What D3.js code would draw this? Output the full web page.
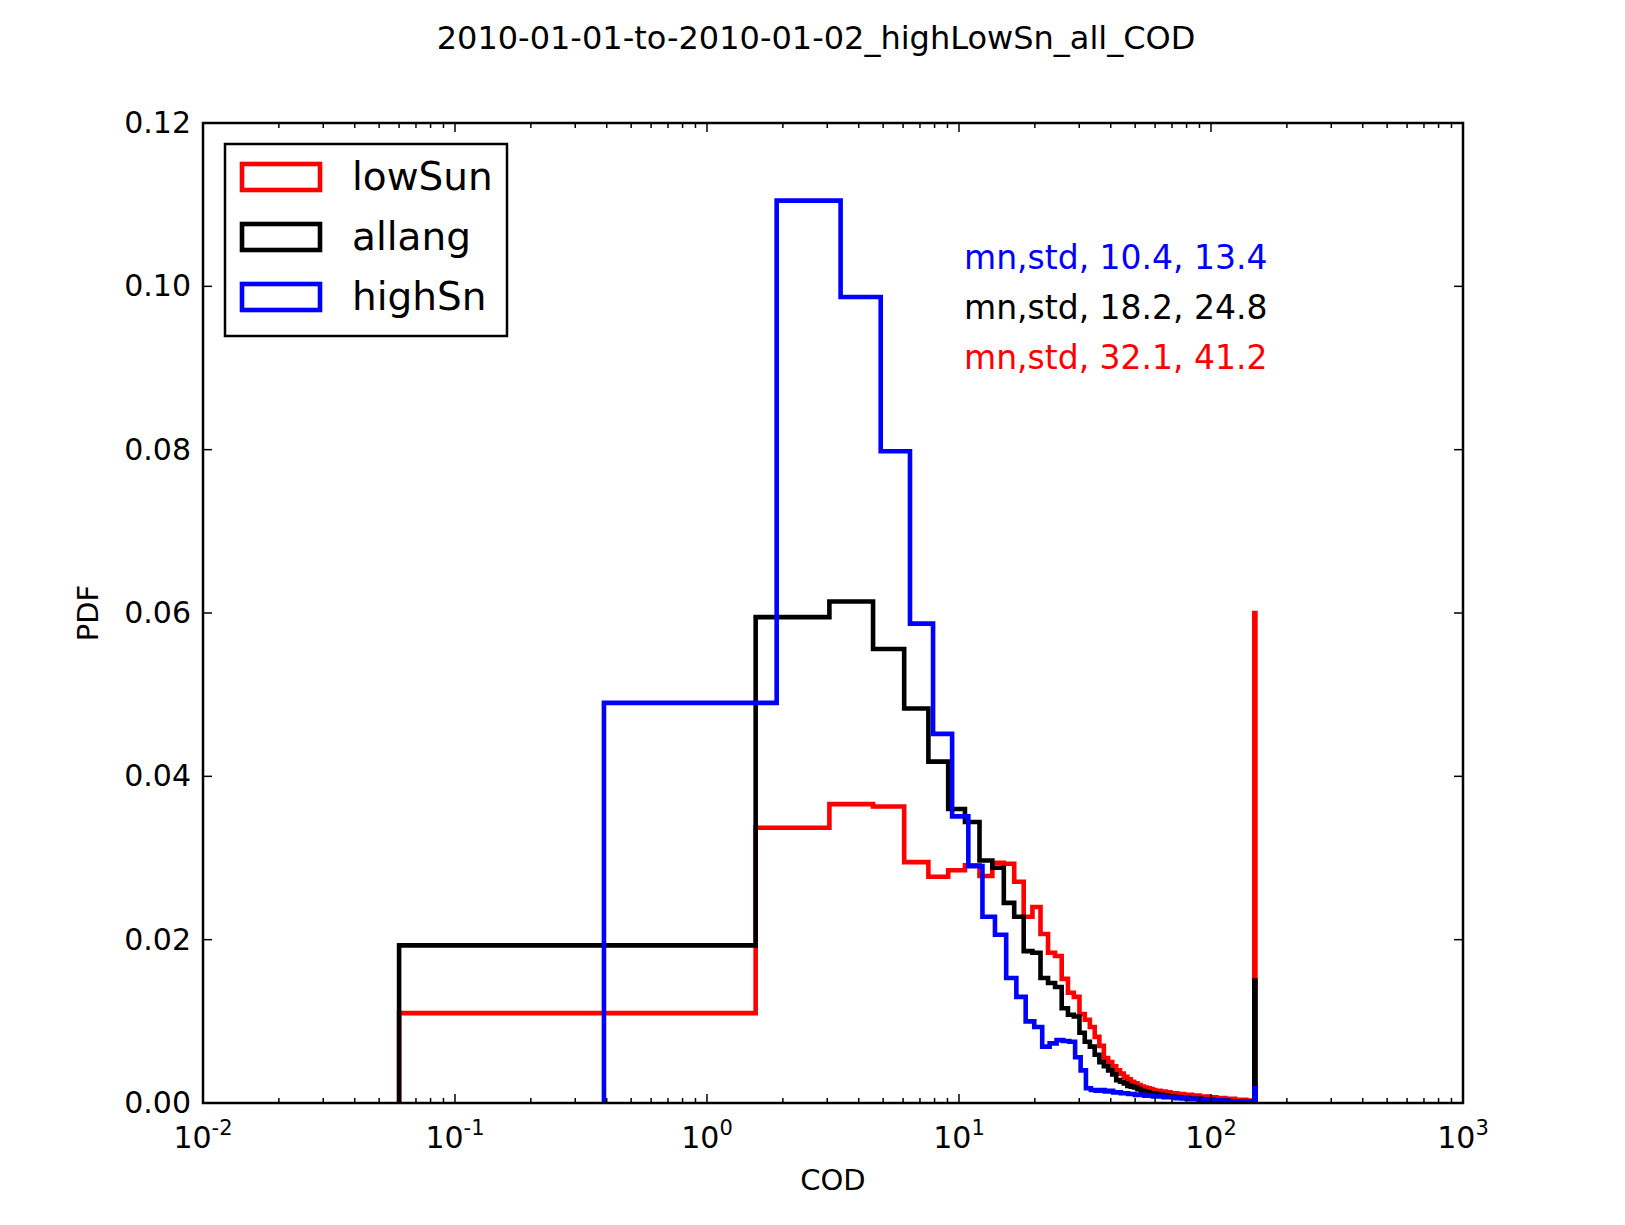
<!DOCTYPE html>
<meta charset="utf-8">
<script src="https://d3js.org/d3.v7.min.js"></script>
<style>
  body { margin: 0; background: #fff; }
  text { font-family: "DejaVu Sans", sans-serif; }
</style>
<div id="chart"></div>
<script>
// bin edges: 100 bins of width 1.5 starting at these values
var binStart = {lowSun: 0.06, allang: 0.06, highSn: 0.39};
var binWidth = 1.5;

var lowSun = [0.0110, 0.0337, 0.0366, 0.0363, 0.0295, 0.0277, 0.0285, 0.0291, 0.0278, 0.0294,
  0.0293, 0.0271, 0.0228, 0.0240, 0.0207, 0.0184, 0.0180, 0.0152, 0.0135, 0.0130,
  0.0109, 0.0102, 0.0093, 0.0081, 0.0070, 0.0055, 0.0050, 0.0045, 0.0040, 0.0036,
  0.0032, 0.0029, 0.0026, 0.0024, 0.0022, 0.0020, 0.0019, 0.0018, 0.0017, 0.0016,
  0.0015, 0.0015, 0.0014, 0.0014, 0.0013, 0.0013, 0.0012, 0.0012, 0.0012, 0.0011,
  0.0011, 0.0011, 0.0010, 0.0010, 0.0010, 0.0010, 0.0009, 0.0009, 0.0009, 0.0009,
  0.0008, 0.0008, 0.0008, 0.0008, 0.0008, 0.0007, 0.0007, 0.0007, 0.0007, 0.0007,
  0.0006, 0.0006, 0.0006, 0.0006, 0.0006, 0.0006, 0.0005, 0.0005, 0.0005, 0.0005,
  0.0005, 0.0005, 0.0005, 0.0004, 0.0004, 0.0004, 0.0004, 0.0004, 0.0004, 0.0004,
  0.0004, 0.0004, 0.0003, 0.0003, 0.0003, 0.0003, 0.0003, 0.0003, 0.0003, 0.0600];

var allang = [0.0193, 0.0595, 0.0614, 0.0556, 0.0483, 0.0418, 0.0360, 0.0344, 0.0297, 0.0288,
  0.0245, 0.0228, 0.0186, 0.0184, 0.0153, 0.0147, 0.0142, 0.0116, 0.0108, 0.0106,
  0.0086, 0.0075, 0.0069, 0.0059, 0.0050, 0.0045, 0.0040, 0.0035, 0.0028, 0.0026,
  0.0024, 0.0021, 0.0020, 0.0019, 0.0017, 0.0015, 0.0014, 0.0013, 0.0012, 0.0012,
  0.0011, 0.0010, 0.0010, 0.0009, 0.0009, 0.0008, 0.0008, 0.0008, 0.0007, 0.0007,
  0.0007, 0.0006, 0.0006, 0.0006, 0.0006, 0.0005, 0.0005, 0.0005, 0.0005, 0.0005,
  0.0005, 0.0004, 0.0004, 0.0004, 0.0004, 0.0004, 0.0004, 0.0004, 0.0003, 0.0003,
  0.0003, 0.0003, 0.0003, 0.0003, 0.0003, 0.0003, 0.0003, 0.0003, 0.0002, 0.0002,
  0.0002, 0.0002, 0.0002, 0.0002, 0.0002, 0.0002, 0.0002, 0.0002, 0.0002, 0.0002,
  0.0002, 0.0002, 0.0002, 0.0002, 0.0002, 0.0002, 0.0002, 0.0002, 0.0002, 0.0150];

var highSn = [0.0490, 0.1105, 0.0987, 0.0798, 0.0587, 0.0452, 0.0351, 0.0290, 0.0228, 0.0206,
  0.0153, 0.0130, 0.0100, 0.0093, 0.0069, 0.0073, 0.0077, 0.0076, 0.0075, 0.0056,
  0.0040, 0.0018, 0.0016, 0.0015, 0.0016, 0.0014, 0.0015, 0.0013, 0.0013, 0.0012,
  0.0012, 0.0011, 0.0011, 0.0010, 0.0010, 0.0010, 0.0009, 0.0009, 0.0009, 0.0008,
  0.0008, 0.0008, 0.0008, 0.0007, 0.0007, 0.0007, 0.0007, 0.0007, 0.0006, 0.0006,
  0.0006, 0.0006, 0.0006, 0.0005, 0.0005, 0.0005, 0.0005, 0.0005, 0.0005, 0.0004,
  0.0004, 0.0004, 0.0004, 0.0004, 0.0004, 0.0004, 0.0003, 0.0003, 0.0003, 0.0003,
  0.0003, 0.0003, 0.0003, 0.0003, 0.0003, 0.0003, 0.0002, 0.0002, 0.0002, 0.0002,
  0.0002, 0.0002, 0.0002, 0.0002, 0.0002, 0.0002, 0.0002, 0.0002, 0.0002, 0.0002,
  0.0002, 0.0002, 0.0002, 0.0002, 0.0002, 0.0002, 0.0002, 0.0002, 0.0002, 0.0018];

var series = [
  {name: "lowSun", values: lowSun, color: "#ff0000"},
  {name: "allang", values: allang, color: "#000000"},
  {name: "highSn", values: highSn, color: "#0000ff"}
];
var stats = [
  {text: "mn,std, 10.4, 13.4", color: "#0000ff"},
  {text: "mn,std, 18.2, 24.8", color: "#000000"},
  {text: "mn,std, 32.1, 41.2", color: "#ff0000"}
];
var xTickExp = [-2, -1, 0, 1, 2, 3];
var yTicks = [0, 0.02, 0.04, 0.06, 0.08, 0.10, 0.12];

var W = 1625, H = 1225;
var margin = {top: 123, right: 162, bottom: 122, left: 203},
    width = W - margin.left - margin.right,
    height = H - margin.top - margin.bottom;

var svg = d3.select("#chart").append("svg")
    .attr("width", W).attr("height", H);
var g = svg.append("g")
    .attr("transform", "translate(" + margin.left + "," + margin.top + ")");

var x = d3.scaleLog().domain([0.01, 1000]).range([0, width]);
var y = d3.scaleLinear().domain([0, 0.12]).range([height, 0]);

// step outlines of the histograms
series.forEach(function(s) {
  var x0 = binStart[s.name];
  var pts = [[x0, 0]];
  s.values.forEach(function(v, i) {
    pts.push([x0 + i * binWidth, v]);
    pts.push([x0 + (i + 1) * binWidth, v]);
  });
  pts.push([x0 + s.values.length * binWidth, 0]);
  g.append("path")
    .attr("d", d3.line().x(function(d) { return x(d[0]); }).y(function(d) { return y(d[1]); })(pts))
    .attr("fill", "none")
    .attr("stroke", s.color)
    .attr("stroke-width", 4.6)
    .attr("stroke-linejoin", "miter");
});

// ticks (inward, all sides)
var minor = [];
for (var e = -2; e < 3; e++) for (var m = 2; m < 10; m++) minor.push(m * Math.pow(10, e));
var tk = g.append("g").attr("stroke", "#000").attr("stroke-width", 1.5);
xTickExp.forEach(function(e) {
  var px = x(Math.pow(10, e));
  tk.append("line").attr("x1", px).attr("x2", px).attr("y1", height).attr("y2", height - 9);
  tk.append("line").attr("x1", px).attr("x2", px).attr("y1", 0).attr("y2", 9);
});
minor.forEach(function(v) {
  var px = x(v);
  tk.append("line").attr("x1", px).attr("x2", px).attr("y1", height).attr("y2", height - 5);
  tk.append("line").attr("x1", px).attr("x2", px).attr("y1", 0).attr("y2", 5);
});
yTicks.forEach(function(v) {
  var py = y(v);
  tk.append("line").attr("x1", 0).attr("x2", 9).attr("y1", py).attr("y2", py);
  tk.append("line").attr("x1", width).attr("x2", width - 9).attr("y1", py).attr("y2", py);
});

g.append("rect").attr("width", width).attr("height", height)
  .attr("fill", "none").attr("stroke", "#000").attr("stroke-width", 2.5);

// tick labels
xTickExp.forEach(function(e) {
  var t = g.append("text").attr("x", x(Math.pow(10, e))).attr("y", height + 45)
    .attr("text-anchor", "middle").attr("font-size", 30);
  t.append("tspan").text("10");
  t.append("tspan").attr("dy", -13).attr("font-size", 21).text(e);
});
yTicks.forEach(function(v) {
  g.append("text").attr("x", -12).attr("y", y(v) + 10)
    .attr("text-anchor", "end").attr("font-size", 30).text(v.toFixed(2));
});

g.append("text").attr("x", width / 2).attr("y", height + 87)
  .attr("text-anchor", "middle").attr("font-size", 29).text("COD");
g.append("text").attr("transform", "translate(-105," + (height / 2) + ") rotate(-90)")
  .attr("text-anchor", "middle").attr("font-size", 29).text("PDF");
svg.append("text").attr("x", 816).attr("y", 49)
  .attr("text-anchor", "middle").attr("font-size", 32)
  .text("2010-01-01-to-2010-01-02_highLowSn_all_COD");

// stats annotations
stats.forEach(function(s, i) {
  g.append("text").attr("x", 761).attr("y", 146 + i * 50)
    .attr("font-size", 33).attr("fill", s.color).text(s.text);
});

// legend
var lg = g.append("g").attr("transform", "translate(22,21)");
lg.append("rect").attr("width", 282).attr("height", 192)
  .attr("fill", "#fff").attr("stroke", "#000").attr("stroke-width", 2.5);
series.forEach(function(s, i) {
  var yy = 33 + i * 60;
  lg.append("rect").attr("x", 17).attr("y", yy - 13).attr("width", 78).attr("height", 26)
    .attr("fill", "none").attr("stroke", s.color).attr("stroke-width", 4.6);
  lg.append("text").attr("x", 127).attr("y", yy + 13).attr("font-size", 39).text(s.name);
});
</script>
